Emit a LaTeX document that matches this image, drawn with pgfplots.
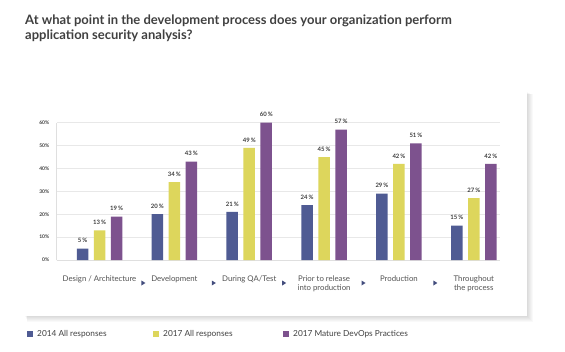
\documentclass[border=0pt]{standalone}
\usepackage{pgfplots}
\pgfplotsset{compat=1.18}
\usepackage{fontspec}
\setmainfont{Lato}
\definecolor{cblue}{HTML}{4F5B93}
\definecolor{cyellow}{HTML}{DDD65C}
\definecolor{cpurple}{HTML}{7D528E}
\definecolor{txt}{HTML}{404040}
\begin{document}
\begin{tikzpicture}
\useasboundingbox (0,0) rectangle (565pt,351pt);
\fill[white] (0,0) rectangle (565pt,351pt);
\foreach \s in {1,...,6} {\fill[black,opacity=0.025] (25pt+\s*0.4pt,35pt-\s*1pt) rectangle (527pt+\s*1pt,259pt-\s*0.4pt);}
\fill[white] (25pt,35pt) rectangle (527pt,259pt);
\node[anchor=north west, align=left, font=\fontsize{13}{15}\selectfont\bfseries, color=txt, inner sep=0pt] at (25pt,336pt) {At what point in the development process does your organization perform\\application security analysis?};
\begin{axis}[
  at={(56.7pt,91pt)}, anchor=south west, scale only axis,
  width=443.3pt, height=137.3pt,
  ybar, bar width=11.5pt,
  ymin=0, ymax=60, xmin=-0.572, xmax=5.35,
  ytick={0,10,...,60},
  /pgf/number format/assume math mode=true,
  yticklabel={\pgfmathprintnumber{\tick}\%},
  yticklabel style={font=\fontsize{5}{6}\selectfont\bfseries, color=txt, xshift=-4pt},
  xtick={0,...,5},
  xticklabels={Design / Architecture, Development, During QA/Test, {Prior to release\\into production}, Production, {Throughout\\the process}},
  xticklabel style={font=\fontsize{7.8}{9.5}\selectfont, color=txt!90, align=center, anchor=north, yshift=-12pt},
  major tick length=0pt,
  ymajorgrids, grid style={color=gray!18, line width=0.6pt},
  axis lines*=left, axis line style={color=gray!25, line width=0.6pt},
  clip=false,
  nodes near coords={\pgfmathprintnumber{\pgfplotspointmeta}\,\%},
  every node near coord/.append style={font=\fontsize{6}{7}\selectfont\bfseries, color=txt, inner sep=0pt, anchor=south, yshift=5.5pt},
  legend columns=3,
  legend style={draw=none, fill=none, at={(-0.067,-0.539)}, anchor=west, inner sep=0pt, font=\fontsize{8.3}{10}\selectfont, text=txt},
  legend image code/.code={\fill[#1] (0pt,-2.5pt) rectangle (5.5pt,3pt);},
]
\addplot[fill=cblue, draw=none, bar shift=-17pt] coordinates {(0,5) (1,20) (2,21) (3,24) (4,29) (5,15)};
\addlegendentry{\hspace{2.5pt}\makebox[114pt][l]{2014 All responses}}
\addplot[fill=cyellow, draw=none, bar shift=0pt] coordinates {(0,13) (1,34) (2,49) (3,45) (4,42) (5,27)};
\addlegendentry{\hspace{2.5pt}\makebox[118pt][l]{2017 All responses}}
\addplot[fill=cpurple, draw=none, bar shift=17pt] coordinates {(0,19) (1,43) (2,60) (3,57) (4,51) (5,42)};
\addlegendentry{\hspace{2.5pt}2017 Mature DevOps Practices}
\pgfplotsinvokeforeach{0.58,1.52,2.46,3.52,4.48}{\fill[cblue!85!black] ([xshift=-1.5pt,yshift=-20.5pt]axis cs:#1,0) -- ([xshift=-1.5pt,yshift=-25.5pt]axis cs:#1,0) -- ([xshift=2.5pt,yshift=-23pt]axis cs:#1,0) -- cycle;}
\end{axis}
\end{tikzpicture}
\end{document}
